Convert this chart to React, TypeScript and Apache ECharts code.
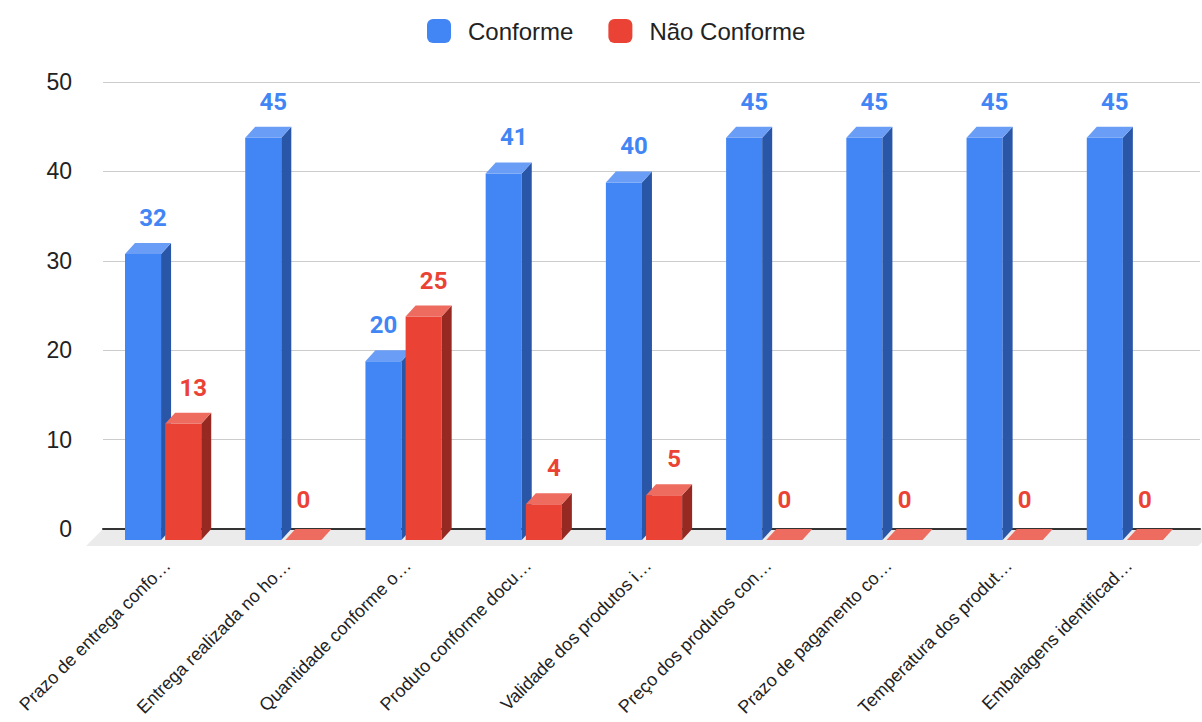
import React, { useEffect, useRef } from "react";
import * as echarts from "echarts";

const categories = [
  "Prazo de entrega confo…",
  "Entrega realizada no ho…",
  "Quantidade conforme o…",
  "Produto conforme docu…",
  "Validade dos produtos i…",
  "Preço dos produtos con…",
  "Prazo de pagamento co…",
  "Temperatura dos produt…",
  "Embalagens identificad…",
];
const seriesNames = ["Conforme", "Não Conforme"];
const conforme = [32, 45, 20, 41, 40, 45, 45, 45, 45];
const naoConforme = [13, 0, 25, 4, 5, 0, 0, 0, 0];
const yMin = 0;
const yMax = 50;
const yInterval = 10;

const palettes = [
  { front: "#4285F4", side: "#2A56A8", top: "#6A9EF6", label: "#4285F4" },
  { front: "#EA4335", side: "#962A22", top: "#EE6B5F", label: "#EA4335" },
];

const DX = 10;
const DY = 11;

function makeRender(seriesIdx: number) {
  const colors = palettes[seriesIdx];
  return (params: any, api: any) => {
    const i = api.value(0);
    const v = api.value(1);
    const top = api.coord([i, v]);
    const base = api.coord([i, 0]);
    const cx = top[0];
    const yTop = top[1];
    const yBase = base[1];
    const band = api.size([1, 0])[0];
    const w = band * 0.3;
    const gap = band * 0.034;
    const xb = seriesIdx === 0 ? cx - gap / 2 - w : cx + gap / 2;
    const xf = xb - DX;
    const yTf = yTop + DY;
    const yBf = yBase + DY;
    const other = seriesIdx === 0 ? naoConforme[i] : conforme[i];
    const shift = v === 0 || (seriesIdx === 0 && other > v);
    const lx = shift ? xf + w / 2 : xb + w / 2;
    const ly = v === 0 ? yTop - 17 : yTop - 13;
    return {
      type: "group",
      children: [
        {
          type: "polygon",
          shape: { points: [[xf, yTf], [xf + w, yTf], [xf + w, yBf], [xf, yBf]] },
          style: { fill: colors.front },
        },
        {
          type: "polygon",
          shape: { points: [[xf + w, yTf], [xb + w, yTop], [xb + w, yBase], [xf + w, yBf]] },
          style: { fill: colors.side },
        },
        {
          type: "polygon",
          shape: { points: [[xf, yTf], [xb, yTop], [xb + w, yTop], [xf + w, yTf]] },
          style: { fill: colors.top },
        },
        {
          type: "text",
          x: lx,
          y: ly,
          style: {
            text: String(v),
            fill: colors.label,
            fontSize: 24,
            fontWeight: "bold",
            fontFamily: "Roboto",
            align: "center",
            verticalAlign: "bottom",
          },
        },
      ],
    };
  };
}

export default function App() {
  const ref = useRef<HTMLDivElement>(null);
  useEffect(() => {
    if (!ref.current) return;
    const chart = echarts.init(ref.current, undefined, { renderer: "svg" });
    const font = "Liberation Sans";
    chart.setOption({
      animation: false,
      backgroundColor: "#ffffff",
      textStyle: { fontFamily: font },
      legend: {
        left: 427,
        top: 19,
        padding: 0,
        itemWidth: 24,
        itemHeight: 24,
        itemGap: 35,
        icon: "roundRect",
        data: seriesNames,
        textStyle: { fontSize: 24, color: "#222", fontFamily: font, padding: [0, 0, 0, 12] },
      },
      grid: [
        { left: 103, right: 2, top: 82, bottom: 193, outerBoundsMode: "none", containLabel: false },
        { left: 113, right: 7, top: 82, bottom: 193, outerBoundsMode: "none", containLabel: false },
      ],
      xAxis: [
        {
          gridIndex: 0,
          type: "value",
          min: 0,
          max: 1,
          axisLabel: { show: false },
          axisTick: { show: false },
          splitLine: { show: false },
          axisLine: { show: true, lineStyle: { color: "#333", width: 2 } },
          z: 1,
        },
        {
          gridIndex: 1,
          type: "category",
          data: categories,
          axisLine: { show: false },
          axisTick: { show: false },
          axisLabel: {
            rotate: 45,
            interval: 0,
            fontSize: 18,
            color: "#222",
            fontFamily: font,
            margin: 28,
            padding: [0, 8, 0, 0],
          },
        },
      ],
      yAxis: [
        {
          gridIndex: 0,
          type: "value",
          min: yMin,
          max: yMax,
          interval: yInterval,
          axisLine: { show: false },
          axisTick: { show: false },
          axisLabel: { fontSize: 23, color: "#222", fontFamily: font, margin: 31 },
          splitLine: { lineStyle: { color: "#cccccc", width: 1.2 } },
        },
        {
          gridIndex: 1,
          type: "value",
          min: yMin,
          max: yMax,
          interval: yInterval,
          show: false,
        },
      ],
      graphic: [
        {
          type: "polygon",
          z: -1,
          silent: true,
          shape: { points: [[103, 529], [1216, 529], [1198, 546], [86, 546]] },
          style: { fill: "#ebebeb" },
        },
      ],
      series: [
        {
          name: seriesNames[0],
          type: "custom",
          xAxisIndex: 1,
          yAxisIndex: 1,
          itemStyle: { color: palettes[0].front },
          renderItem: makeRender(0),
          data: conforme.map((v, i) => [i, v]),
          z: 3,
        },
        {
          name: seriesNames[1],
          type: "custom",
          xAxisIndex: 1,
          yAxisIndex: 1,
          itemStyle: { color: palettes[1].front },
          renderItem: makeRender(1),
          data: naoConforme.map((v, i) => [i, v]),
          z: 4,
        },
      ],
    });
    return () => chart.dispose();
  }, []);
  return (
    <div
      ref={ref}
      style={{ position: "absolute", left: 0, top: 0, width: 1202, height: 722 }}
    />
  );
}
